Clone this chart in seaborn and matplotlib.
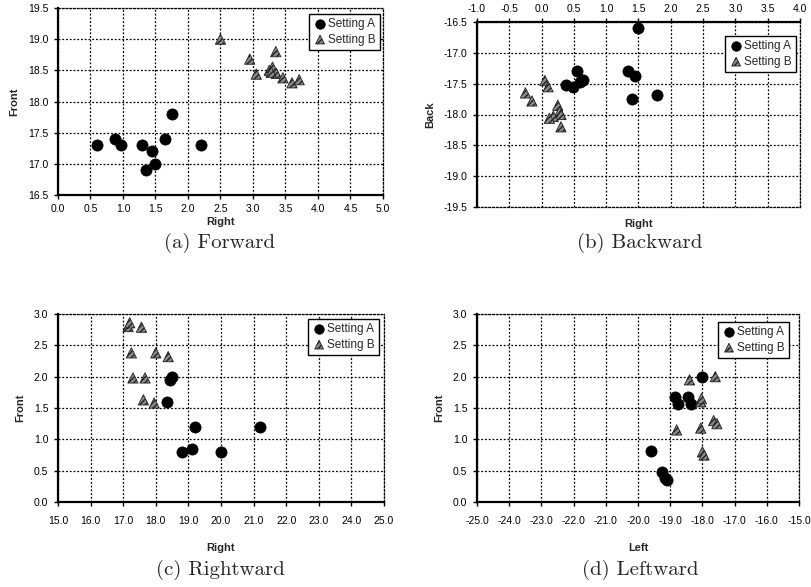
import matplotlib
matplotlib.use("Agg")
import matplotlib.pyplot as plt
import seaborn as sns
import pandas as pd
from matplotlib.ticker import FormatStrFormatter, MultipleLocator

sns.set_theme(style="white")
plt.rcParams['font.family'] = ['Liberation Sans', 'DejaVu Sans']

# ---------------- data ----------------
# (a) Forward
fwd_a_x = [0.6, 0.87, 0.97, 1.3, 1.45, 1.35, 1.5, 1.65, 1.75, 2.2]
fwd_a_y = [17.3, 17.4, 17.3, 17.3, 17.2, 16.9, 17.0, 17.4, 17.8, 17.3]
fwd_b_x = [2.5, 2.95, 3.05, 3.35, 3.25, 3.3, 3.36, 3.46, 3.6, 3.71, 3.28]
fwd_b_y = [19.0, 18.68, 18.44, 18.8, 18.5, 18.55, 18.45, 18.38, 18.3, 18.35, 18.47]
# (b) Backward
bwd_a_x = [1.5, 0.55, 0.38, 0.48, 0.59, 0.64, 1.34, 1.44, 1.4, 1.79]
bwd_a_y = [-16.6, -17.3, -17.52, -17.55, -17.48, -17.44, -17.29, -17.38, -17.75, -17.69]
bwd_b_x = [-0.25, -0.15, 0.05, 0.1, 0.25, 0.28, 0.3, 0.18, 0.12, 0.3]
bwd_b_y = [-17.65, -17.78, -17.45, -17.55, -17.85, -17.95, -18.0, -18.03, -18.06, -18.2]
# (c) Rightward
rgt_a_x = [18.5, 18.45, 18.35, 18.8, 19.1, 19.2, 20.0, 21.2]
rgt_a_y = [2.0, 1.95, 1.6, 0.8, 0.85, 1.2, 0.8, 1.2]
rgt_b_x = [17.15, 17.2, 17.56, 17.25, 18.0, 18.38, 17.3, 17.67, 17.62, 17.95]
rgt_b_y = [2.8, 2.86, 2.79, 2.38, 2.38, 2.32, 1.98, 1.98, 1.63, 1.58]
# (d) Leftward
lft_a_x = [-18.0, -18.85, -18.75, -18.45, -18.35, -19.6, -19.25, -19.15, -19.1]
lft_a_y = [2.0, 1.67, 1.57, 1.67, 1.57, 0.82, 0.48, 0.38, 0.35]
lft_b_x = [-18.4, -17.6, -18.05, -18.03, -18.8, -18.05, -17.65, -17.55, -18.0, -17.95]
lft_b_y = [1.95, 2.0, 1.6, 1.65, 1.15, 1.18, 1.3, 1.25, 0.8, 0.75]

labels = ["Setting A", "Setting B"]
captions = ["(a) Forward", "(b) Backward", "(c) Rightward", "(d) Leftward"]

W, H = 812, 587
fig = plt.figure(figsize=(W / 100, H / 100), dpi=100)


def rect(l, r, t, b):
    return [l / W, 1 - b / H, (r - l) / W, (b - t) / H]


panels = [
    dict(rect=rect(58, 383, 8, 195), ax_=fwd_a_x, ay=fwd_a_y, bx=fwd_b_x, by=fwd_b_y,
         xlim=(0, 5), xstep=0.5, ylim=(16.5, 19.5), ystep=0.5, xlabel="Right", ylabel="Front",
         top=False, leg=(0.991, 0.968), tpad=3.5, lpad=2.5),
    dict(rect=rect(477, 800, 22, 207), ax_=bwd_a_x, ay=bwd_a_y, bx=bwd_b_x, by=bwd_b_y,
         xlim=(-1, 4), xstep=0.5, ylim=(-19.5, -16.5), ystep=0.5, xlabel="Right", ylabel="Back",
         top=True, leg=(0.988, 0.924), tpad=3, lpad=9),
    dict(rect=rect(58, 384, 314, 502), ax_=rgt_a_x, ay=rgt_a_y, bx=rgt_b_x, by=rgt_b_y,
         xlim=(15, 25), xstep=1.0, ylim=(0, 3), ystep=0.5, xlabel="Right", ylabel="Front",
         top=False, leg=(0.985, 0.973), tpad=7, lpad=12),
    dict(rect=rect(477, 799, 314, 502), ax_=lft_a_x, ay=lft_a_y, bx=lft_b_x, by=lft_b_y,
         xlim=(-25, -15), xstep=1.0, ylim=(0, 3), ystep=0.5, xlabel="Left", ylabel="Front",
         top=False, leg=(0.969, 0.957), tpad=7, lpad=12),
]

cap_pos = [(220, 243), (640, 243), (220, 570), (640, 570)]

for p, cap, cp in zip(panels, captions, cap_pos):
    ax = fig.add_axes(p["rect"])
    dfa = pd.DataFrame({"x": p["ax_"], "y": p["ay"]})
    dfb = pd.DataFrame({"x": p["bx"], "y": p["by"]})
    sns.scatterplot(data=dfa, x="x", y="y", ax=ax, marker="o", color="black",
                    s=65, edgecolor="black", linewidth=0.5, label=labels[0], zorder=3)
    sns.scatterplot(data=dfb, x="x", y="y", ax=ax, marker="^", color="#8a8a8a",
                    s=55, edgecolor="#222222", linewidth=0.6, hatch="//////",
                    label=labels[1], zorder=3)
    ax.set_xlim(*p["xlim"])
    ax.set_ylim(*p["ylim"])
    ax.xaxis.set_major_locator(MultipleLocator(p["xstep"]))
    ax.yaxis.set_major_locator(MultipleLocator(p["ystep"]))
    ax.xaxis.set_major_formatter(FormatStrFormatter("%.1f"))
    ax.yaxis.set_major_formatter(FormatStrFormatter("%.1f"))
    ax.grid(True, color="black", linestyle=(0, (1.5, 1.5)), linewidth=0.9)
    ax.set_axisbelow(True)
    ax.tick_params(labelsize=7.5, length=3, width=1, direction="out", color="black",
                   pad=4, labelcolor="black")
    for s in ax.spines.values():
        s.set_color("black")
        s.set_linewidth(0.9)
        s.set_linestyle((0, (1.5, 1.5)))
    ax.spines["left"].set_linestyle("-")
    ax.spines["left"].set_linewidth(1.6)
    if p["top"]:
        ax.spines["top"].set_linestyle("-")
        ax.spines["top"].set_linewidth(1.6)
        ax.xaxis.tick_top()
        ax.xaxis.set_label_position("bottom")
        ax.tick_params(axis="x", bottom=False, top=True, labelbottom=False, labeltop=True,
                       pad=p["tpad"])
    else:
        ax.spines["bottom"].set_linestyle("-")
        ax.spines["bottom"].set_linewidth(1.6)
        ax.tick_params(axis="x", bottom=True, top=False, pad=p["tpad"])
    ax.set_xlabel(p["xlabel"], fontsize=8, fontweight="bold", labelpad=p["lpad"])
    ax.tick_params(axis="y", left=True, right=False)
    ax.set_ylabel(p["ylabel"], fontsize=8, fontweight="bold", labelpad=6)
    leg = ax.legend(loc="upper right", bbox_to_anchor=p["leg"], borderaxespad=0,
                    fontsize=8.5, frameon=True, fancybox=False, framealpha=1,
                    edgecolor="black", handletextpad=0.1, borderpad=0.35,
                    labelspacing=0.3, handlelength=1.2, markerscale=0.85)
    leg.get_frame().set_linewidth(1.0)
    fig.text(cp[0] / W, 1 - cp[1] / H, cap, ha="center", va="center",
             fontsize=15, family=["cmr10", "DejaVu Serif"])

fig.savefig("out.png", dpi=100)
